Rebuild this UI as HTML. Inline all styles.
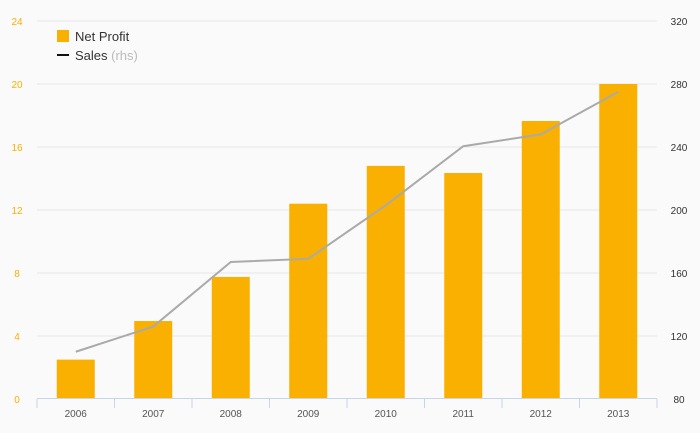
<!DOCTYPE html>
<html><head><meta charset="utf-8"><style>
body{margin:0;background:#fafafa}
svg{display:block;font-family:"Liberation Sans",sans-serif}
</style></head><body>
<svg id="c" width="700" height="433">
<rect width="700" height="433" fill="#fafafa"/>
<g id="grid"></g><g id="bars"></g><g id="line"></g><g id="axes"></g>
<g>
<rect x="57" y="30" width="12" height="12" fill="#f9b000"/>
<text x="75" y="41" font-size="13" fill="#333">Net Profit</text>
<line x1="57" y1="55" x2="69" y2="55" stroke="#111" stroke-width="2"/>
<text x="75" y="60" font-size="13" fill="#333">Sales <tspan fill="#bbb">(rhs)</tspan></text>
</g>
</svg>
<script>
const categories=["2006","2007","2008","2009","2010","2011","2012","2013"];
const netProfit=[2.5,4.95,7.75,12.4,14.8,14.35,17.65,20];
const sales=[110,126,167,169,203,240.5,248,275];
const leftTicks=[0,4,8,12,16,20,24];
const rightTicks=[80,120,160,200,240,280,320];
const NS="http://www.w3.org/2000/svg";
const x0=37,x1=657,yb=399,yt=21;
const bw=(x1-x0)/categories.length;
const xc=i=>x0+bw*(i+0.5);
const yL=v=>yb-(v/24)*(yb-yt);
const yR=v=>yb-((v-80)/240)*(yb-yt);
function mk(t,a,p){const e=document.createElementNS(NS,t);for(const k in a)e.setAttribute(k,a[k]);p.appendChild(e);return e;}
const grid=document.getElementById('grid'),bars=document.getElementById('bars'),line=document.getElementById('line'),axes=document.getElementById('axes');
leftTicks.forEach((v,i)=>{
 const y=yL(v);
 if(v>0){const g=mk('line',{x1:x0,x2:x1,y1:y,y2:y,stroke:'#e6e6e6'},grid);
 
 }
 const t=mk('text',{x:17,y:y+4,'font-size':10,fill:'#f9b000','text-anchor':'middle'},axes);t.textContent=v;
 
 
 const r=mk('text',{x:679,y:yR(rightTicks[i])+4,'font-size':10,fill:'#333','text-anchor':'middle'},axes);r.textContent=rightTicks[i];
 
 
});
netProfit.forEach((v,i)=>{
 const b=mk('rect',{x:xc(i)-19,y:yL(v),width:38,height:yb-yL(v),fill:'#f9b000'},bars);
 
 
});
const pl=mk('polyline',{points:sales.map((v,i)=>xc(i)+','+yR(v)).join(' '),fill:'none',stroke:'#aaa','stroke-width':2},line);


const ax=mk('line',{x1:x0,x2:x1,y1:yb-0.5,y2:yb-0.5,stroke:'#c8d4e8'},axes);


for(let i=0;i<=categories.length;i++){
 const tk=mk('line',{x1:x0+bw*i,x2:x0+bw*i,y1:yb,y2:yb+9,stroke:'#c8d4e8'},axes);
 
 
}
categories.forEach((c,i)=>{
 const t=mk('text',{x:xc(i),y:417,'font-size':10,fill:'#555','text-anchor':'middle'},axes);t.textContent=c;
 
 
});
</script>
</body></html>
